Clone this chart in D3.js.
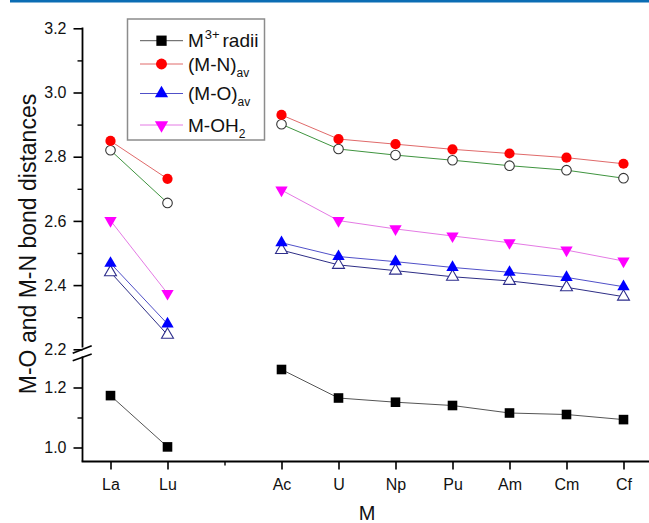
<!DOCTYPE html>
<html>
<head>
<meta charset="utf-8">
<script src="https://cdn.jsdelivr.net/npm/d3@7"></script>
<style>
  body { margin: 0; background: #fff; }
  svg { display: block; font-family: Arial, "Liberation Sans", sans-serif; }
</style>
</head>
<body>
<svg id="chart" width="649" height="523"></svg>
<script>
// data
const categories = ["La", "Lu", "Ac", "U", "Np", "Pu", "Am", "Cm", "Cf"];
const catPos = [1, 2, 4, 5, 6, 7, 8, 9, 10];

const radii = [1.173, 1.002, 1.260, 1.165, 1.151, 1.140, 1.115, 1.110, 1.093];
const mnAv = [2.849, 2.731, 2.930, 2.855, 2.839, 2.823, 2.810, 2.797, 2.778];
const mnAvOpen = [2.820, 2.656, 2.901, 2.824, 2.805, 2.789, 2.772, 2.758, 2.733];
const moAv = [2.468, 2.279, 2.532, 2.489, 2.473, 2.455, 2.440, 2.424, 2.395];
const moAvOpen = [2.440, 2.245, 2.509, 2.463, 2.445, 2.426, 2.413, 2.393, 2.364];
const mOH2 = [2.601, 2.374, 2.696, 2.601, 2.575, 2.553, 2.532, 2.509, 2.475];

const upperTicks = [2.2, 2.4, 2.6, 2.8, 3.0, 3.2];
const upperMinor = [2.3, 2.5, 2.7, 2.9, 3.1];
const lowerTicks = [1.0, 1.2];
const lowerMinor = [1.1];

// segments: La-Lu, then Ac..Cf
const segments = [[0, 1], [2, 3, 4, 5, 6, 7, 8]];

const svg = d3.select("#chart");

// blue strip on top
svg.append("rect").attr("x", 10).attr("y", 0).attr("width", 639).attr("height", 2.5).attr("fill", "#0b6db4");

const x = d3.scaleLinear().domain([0.5, 10.5]).range([82, 652]);
const yUp = d3.scaleLinear().domain([2.2, 3.2]).range([349.3, 28.3]);
const yLo = d3.scaleLinear().domain([0.955, 1.3]).range([461, 357.5]);
const axisX = 82.5, baseY = 461.5;

const series = [
  { vals: mnAvOpen, y: yUp, line: "#3f943f", sym: d3.symbolCircle, size: 72, fill: "#fff", stroke: "#333" },
  { vals: mnAv, y: yUp, line: "#e06a6a", sym: d3.symbolCircle, size: 82, fill: "#ff0000", stroke: "none" },
  { vals: moAvOpen, y: yUp, line: "#2e2e86", sym: d3.symbolTriangle, size: 62, fill: "#fff", stroke: "#2e2e8c" },
  { vals: moAv, y: yUp, line: "#5050c8", sym: d3.symbolTriangle, size: 66, fill: "#0000ff", stroke: "none" },
  { vals: mOH2, y: yUp, line: "#e47ae4", sym: d3.symbolTriangle, size: 66, fill: "#ff00ff", stroke: "none", down: true },
  { vals: radii, y: yLo, line: "#555", sym: d3.symbolSquare, size: 92, fill: "#000", stroke: "none" }
];

const lineGen = d3.line();

series.forEach(s => {
  const g = svg.append("g");
  segments.forEach(seg => {
    g.append("path")
      .attr("d", lineGen(seg.map(i => [x(catPos[i]), s.y(s.vals[i])])))
      .attr("fill", "none")
      .attr("stroke", s.line)
      .attr("stroke-width", 1);
  });
  g.selectAll("path.pt")
    .data(s.vals)
    .enter().append("path")
    .attr("class", "pt")
    .attr("d", d3.symbol().type(s.sym).size(s.size))
    .attr("transform", (d, i) => `translate(${x(catPos[i])},${s.y(d)})` + (s.down ? " rotate(180)" : ""))
    .attr("fill", s.fill)
    .attr("stroke", s.stroke)
    .attr("stroke-width", 1.1);
});

// y axes
function yAxis(scale, major, minor) {
  const g = svg.append("g").attr("transform", `translate(${axisX},0)`);
  g.call(d3.axisLeft(scale).tickValues(major).tickSize(9).tickSizeOuter(0).tickPadding(7).tickFormat(d3.format(".1f")));
  g.select(".domain").remove();
  g.selectAll(".tick line").attr("stroke", "#000").attr("stroke-width", 1.6);
  g.selectAll(".tick text").attr("font-size", 16).attr("fill", "#111").attr("font-family", "Arial, 'Liberation Sans', sans-serif");
  const m = svg.append("g").attr("transform", `translate(${axisX},0)`);
  m.call(d3.axisLeft(scale).tickValues(minor).tickSize(5).tickSizeOuter(0).tickFormat(""));
  m.select(".domain").remove();
  m.selectAll(".tick line").attr("stroke", "#000").attr("stroke-width", 1.4);
}
yAxis(yUp, upperTicks, upperMinor);
yAxis(yLo, lowerTicks, lowerMinor);

svg.append("line").attr("x1", axisX).attr("x2", axisX).attr("y1", 27.5).attr("y2", 347.5).attr("stroke", "#000").attr("stroke-width", 1.8);
svg.append("line").attr("x1", axisX).attr("x2", axisX).attr("y1", 356.5).attr("y2", baseY).attr("stroke", "#000").attr("stroke-width", 1.8);
// break marks
[[353.3, 345.7], [360.7, 354]].forEach(b => {
  svg.append("line").attr("x1", 72.7).attr("y1", b[0]).attr("x2", 91.7).attr("y2", b[1]).attr("stroke", "#000").attr("stroke-width", 1.6);
});

// x axis
const gx = svg.append("g").attr("transform", `translate(0,${baseY})`);
gx.call(d3.axisBottom(x).tickValues(catPos).tickSize(8).tickSizeOuter(0).tickPadding(9)
  .tickFormat((d, i) => categories[i]));
gx.select(".domain").remove();
gx.selectAll(".tick line").attr("stroke", "#000").attr("stroke-width", 1.6);
gx.selectAll(".tick text").attr("font-size", 16).attr("fill", "#111").attr("font-family", "Arial, 'Liberation Sans', sans-serif");
const gxm = svg.append("g").attr("transform", `translate(0,${baseY})`);
gxm.call(d3.axisBottom(x).tickValues([3]).tickSize(4).tickSizeOuter(0).tickFormat(""));
gxm.select(".domain").remove();
gxm.selectAll(".tick line").attr("stroke", "#000").attr("stroke-width", 1.4);
svg.append("line").attr("x1", axisX - 0.9).attr("x2", 649).attr("y1", baseY).attr("y2", baseY).attr("stroke", "#000").attr("stroke-width", 1.8);

// axis titles
svg.append("text").attr("x", 367).attr("y", 520).attr("text-anchor", "middle")
  .attr("font-size", 20).attr("fill", "#111").text("M");
svg.append("text").attr("transform", "translate(36,244) rotate(-90)").attr("text-anchor", "middle")
  .attr("font-size", 23).attr("fill", "#111").text("M-O and M-N bond distances");

// legend
const lg = svg.append("g");
lg.append("rect").attr("x", 127.5).attr("y", 19).attr("width", 137).attr("height", 121)
  .attr("fill", "#fff").attr("stroke", "#8c8c8c").attr("stroke-width", 1.5);
const legendRows = [
  { s: series[5], y: 40.7, main: "M", sup: "3+", rest: "radii" },
  { s: series[1], y: 64, main: "(M-N)", sub: "av" },
  { s: series[3], y: 93.5, main: "(M-O)", sub: "av" },
  { s: series[4], y: 125, main: "M-OH", sub: "2" }
];
legendRows.forEach(r => {
  lg.append("line").attr("x1", 140).attr("x2", 183).attr("y1", r.y).attr("y2", r.y)
    .attr("stroke", r.s.line).attr("stroke-width", 1);
  lg.append("path").attr("d", d3.symbol().type(r.s.sym).size(r.s.size * 1.15)())
    .attr("transform", `translate(161.5,${r.y})` + (r.s.down ? " rotate(180)" : ""))
    .attr("fill", r.s.fill);
  const t = lg.append("text").attr("x", 188).attr("y", r.y + 6.5).attr("font-size", 19).attr("fill", "#111");
  t.append("tspan").text(r.main);
  if (r.sup) {
    t.append("tspan").attr("dy", -8).attr("dx", 1).attr("font-size", 13).text(r.sup);
    t.append("tspan").attr("x", 222.5).attr("dy", 8).text(r.rest);
  }
  if (r.sub) {
    t.append("tspan").attr("dy", 6).attr("font-size", 12).text(r.sub);
  }
});
</script>
</body>
</html>
